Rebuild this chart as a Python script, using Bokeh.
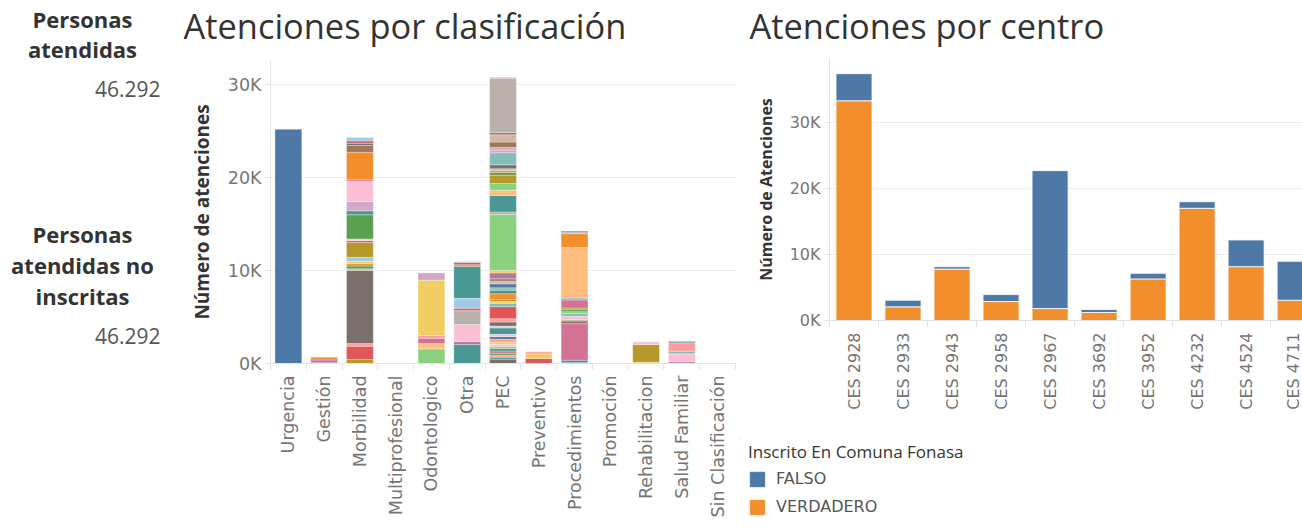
import math
from bokeh.plotting import figure
from bokeh.layouts import row, column
from bokeh.models import (Range1d, FixedTicker, PrintfTickFormatter, Legend, LegendItem,
                          ColumnDataSource)
from bokeh.embed import file_html
from bokeh.resources import INLINE
from bokeh.core.properties import value

# ---------------- data ----------------
personas_atendidas = 46292
personas_no_inscritas = 46292

titulo1 = "Atenciones por clasificación"
titulo2 = "Atenciones por centro"

categorias = ["Urgencia", "Gestión", "Morbilidad", "Multiprofesional", "Odontologico", "Otra",
              "PEC", "Preventivo", "Procedimientos", "Promoción", "Rehabilitacion",
              "Salud Familiar", "Sin Clasificación"]

# stacked segments (thousands of attentions), bottom to top, with their colour keys
urgencia_vals = [25.2]
urgencia_cols = ["azul"]
gestion_vals = [0.08, 0.3, 0.3]
gestion_cols = ["morado_cl", "morado", "naranja"]
morbilidad_vals = [0.43, 1.43, 0.3, 7.85, 0.18, 0.3, 0.25, 0.25, 0.43, 1.6, 0.2, 0.18, 2.6,
                   0.43, 1.0, 2.15, 0.18, 2.97, 0.72, 0.25, 0.25, 0.36]
morbilidad_cols = ["oliva", "rojo", "rojo_cl", "gris", "rojo_cl", "verde", "naranja", "amarillo",
                   "azul_cl", "oliva", "rojo", "rosa_cl", "verde", "turquesa", "morado_cl",
                   "rosa_cl", "rosa", "naranja", "cafe", "gris", "rojo", "azul_cl"]
multiprofesional_vals = []
multiprofesional_cols = []
odontologico_vals = [1.58, 0.57, 0.57, 0.29, 5.95, 0.79]
odontologico_cols = ["verde_cl", "naranja_cl", "rosa", "rojo_cl", "amarillo", "morado_cl"]
otra_vals = [2.04, 0.32, 1.83, 1.5, 0.25, 1.07, 3.44, 0.18, 0.25, 0.1]
otra_cols = ["turquesa", "morado", "rosa_cl", "gris_cl", "rojo", "azul_cl", "turquesa",
             "naranja", "rojo", "azul_cl"]
pec_vals = [0.47, 0.21, 0.21, 0.21, 0.25, 0.25, 0.21, 0.25, 0.25, 0.29, 0.29, 0.25, 0.68, 0.21,
            0.43, 0.36, 1.29, 0.36, 0.21, 0.21, 0.61, 0.39, 0.25, 0.43, 0.29, 0.25, 0.64, 0.25,
            6.02,
            0.29, 1.76, 0.57, 0.72, 0.9, 0.29, 0.2, 0.2, 0.43, 1.29, 0.29, 0.29, 0.57, 0.79,
            0.25, 5.84, 0.1]
pec_cols = ["gris", "turquesa", "rojo_cl", "verde", "rosa", "turquesa", "verde_cl", "rosa_cl",
            "amarillo", "rojo_cl", "azul", "rosa_cl", "turquesa", "rosa_cl", "gris", "rojo_cl",
            "rojo", "turquesa_cl", "amarillo", "oliva", "naranja", "turquesa", "turquesa_cl",
            "azul", "cafe_cl", "cafe", "morado", "amarillo",
            "verde_cl",
            "gris_cl", "turquesa", "naranja_cl", "verde_cl", "oliva", "verde", "naranja",
            "cafe_cl", "gris", "turquesa_cl", "morado_cl", "cafe_cl", "cafe", "cafe_cl", "cafe",
            "gris_cl", "morado_cl"]
preventivo_vals = [0.54, 0.5, 0.22]
preventivo_cols = ["rojo", "amarillo", "rojo_cl"]
procedimientos_vals = [0.14, 0.21, 3.94, 0.29, 0.14, 0.36, 0.29, 0.21, 0.21, 0.18, 0.86, 0.21,
                       5.45, 1.47, 0.14, 0.14]
procedimientos_cols = ["turquesa", "azul", "rosa", "cafe", "gris_cl", "rosa_cl", "turquesa_cl",
                       "verde_cl", "verde", "oliva", "rosa", "turquesa_cl", "naranja_cl",
                       "naranja", "gris_cl", "azul"]
promocion_vals = []
promocion_cols = []
rehabilitacion_vals = [0.14, 1.9, 0.29]
rehabilitacion_cols = ["amarillo", "oliva", "rosa_cl"]
salud_familiar_vals = [0.18, 0.86, 0.29, 0.9, 0.14]
salud_familiar_cols = ["morado", "rosa_cl", "turquesa_cl", "rojo_cl", "azul"]
sin_clasificacion_vals = []
sin_clasificacion_cols = []

centros = ["CES 2928", "CES 2933", "CES 2943", "CES 2958", "CES 2967", "CES 3692",
           "CES 3952", "CES 4232", "CES 4524", "CES 4711"]
verdadero = [33.3, 2.07, 7.8, 2.87, 1.81, 1.21, 6.3, 17.0, 8.16, 3.07]
falso = [4.1, 1.0, 0.36, 1.06, 20.9, 0.45, 0.85, 1.0, 4.04, 5.9]
leyenda_titulo = "Inscrito En Comuna Fonasa"
leyenda_etiquetas = ["FALSO", "VERDADERO"]

y1_ticks = [0, 10, 20, 30]
y2_ticks = [0, 10, 20, 30]

# ---------------- styles ----------------
paleta = {"azul": "#4E79A7", "azul_cl": "#A0CBE8", "naranja": "#F28E2B", "naranja_cl": "#FFBE7D",
          "verde": "#59A14F", "verde_cl": "#8CD17D", "oliva": "#B6992D", "amarillo": "#F1CE63",
          "turquesa": "#499894", "turquesa_cl": "#86BCB6", "rojo": "#E15759", "rojo_cl": "#FF9D9A",
          "gris": "#79706E", "gris_cl": "#BAB0AC", "rosa": "#D37295", "rosa_cl": "#FABFD2",
          "morado": "#B07AA1", "morado_cl": "#D4A6C8", "cafe": "#9D7660", "cafe_cl": "#D7B5A6"}
TICK_FONT = "DejaVu Sans"
TITLE_FONT = "Open Sans"
GRID = "#ececec"
AXIS = "#e3e3e3"
TICK_COLOR = "#757575"
DARK = "#333333"

H = 531
W0, W1, W2 = 183, 557, 562
T1, T2 = 60, 58          # heights of the title strips
HL = 93                  # height of the legend strip


def fmt_miles(n):
    return f"{n:,}".replace(",", ".")


def blank(w, h):
    f = figure(width=w, height=h, x_range=Range1d(0, w), y_range=Range1d(h, 0),
               output_backend="svg", toolbar_location=None, min_border=0,
               x_axis_type=None, y_axis_type=None, title=None)
    f.frame_align = False
    f.outline_line_color = None
    f.grid.visible = False
    return f


# ---------------- left KPI panel ----------------
p0 = blank(W0, H)
p0.text(x=[82, 82, 82, 82, 82], y=[18, 48, 233, 264, 295],
        text=["Personas", "atendidas", "Personas", "atendidas no", "inscritas"],
        text_font=value(TITLE_FONT), text_font_style="bold", text_font_size="22px",
        text_color=DARK, text_align="center", text_baseline="middle")
p0.text(x=[160, 160], y=[88, 335],
        text=[fmt_miles(personas_atendidas), fmt_miles(personas_no_inscritas)],
        text_font=value(TITLE_FONT), text_font_size="21px", text_color="#555555",
        text_align="right", text_baseline="middle")

# ---------------- title strips ----------------
t1 = blank(W1, T1)
t1.text(x=[0], y=[25], text=[titulo1], text_font=value(TITLE_FONT), text_font_size="34.4px",
        text_color=DARK, text_align="left", text_baseline="middle")
t2 = blank(W2, T2)
t2.text(x=[9], y=[25], text=[titulo2], text_font=value(TITLE_FONT), text_font_size="34.4px",
        text_color=DARK, text_align="left", text_baseline="middle")

# ---------------- chart 1 ----------------
seg_vals = [urgencia_vals, gestion_vals, morbilidad_vals, multiprofesional_vals,
            odontologico_vals, otra_vals, pec_vals, preventivo_vals, procedimientos_vals,
            promocion_vals, rehabilitacion_vals, salud_familiar_vals, sin_clasificacion_vals]
seg_cols = [urgencia_cols, gestion_cols, morbilidad_cols, multiprofesional_cols,
            odontologico_cols, otra_cols, pec_cols, preventivo_cols, procedimientos_cols,
            promocion_cols, rehabilitacion_cols, salud_familiar_cols, sin_clasificacion_cols]

xs, bots, tops, cols = [], [], [], []
for i, (vals, ck) in enumerate(zip(seg_vals, seg_cols)):
    acc = 0.0
    for v, c in zip(vals, ck):
        xs.append(2 * i + 1)
        bots.append(acc)
        tops.append(acc + v)
        cols.append(paleta[c])
        acc += v
src1 = ColumnDataSource(dict(x=xs, bottom=bots, top=tops, color=cols))

n1 = len(categorias)
p1 = figure(width=W1, height=H - T1, x_range=Range1d(0, 2 * n1), y_range=Range1d(0, 32.6),
            output_backend="svg", toolbar_location=None, title=None,
            min_border_left=87, min_border_right=5, min_border_top=0, min_border_bottom=168)
p1.vbar(x="x", bottom="bottom", top="top", width=1.5, fill_color="color", source=src1,
        line_color="white", line_width=0.5, line_alpha=0.6)

# ---------------- chart 2 ----------------
src2 = ColumnDataSource(dict(x=[2 * i + 1 for i in range(len(centros))],
                             verdadero=verdadero, falso=falso))
H2 = H - T2 - HL
p2 = figure(width=W2, height=H2, x_range=Range1d(0, 19.3), y_range=Range1d(0, 39.7),
            output_backend="svg", toolbar_location=None, title=None,
            min_border_left=89, min_border_right=0, min_border_top=0, min_border_bottom=118)
r_verd, r_falso = p2.vbar_stack(["verdadero", "falso"], x="x", width=1.47, source=src2,
                                color=[paleta["naranja"], paleta["azul"]],
                                line_color="white", line_width=1, line_alpha=0.8)


def style(p, labels, nticks, yticks, ylabel, tick_size, ylab_size):
    p.frame_align = False
    p.outline_line_color = None
    p.background_fill_color = "white"
    p.xgrid.visible = False
    p.ygrid.grid_line_color = GRID
    p.ygrid.grid_line_width = 1

    xa = p.xaxis[0]
    xa.ticker = FixedTicker(ticks=[2 * i + 1 for i in range(len(labels))],
                            minor_ticks=[2 * i for i in range(nticks + 1)])
    xa.major_label_overrides = {2 * i + 1: lab for i, lab in enumerate(labels)}
    xa.major_label_orientation = math.pi / 2
    xa.major_tick_line_color = None
    xa.minor_tick_in = 0
    xa.minor_tick_out = 6
    xa.minor_tick_line_color = AXIS
    xa.axis_line_color = AXIS
    xa.major_label_text_font = TICK_FONT
    xa.major_label_text_font_size = tick_size
    xa.major_label_text_color = TICK_COLOR
    xa.major_label_standoff = 6

    ya = p.yaxis[0]
    ya.ticker = FixedTicker(ticks=yticks)
    ya.formatter = PrintfTickFormatter(format="%dK")
    ya.major_tick_in = 0
    ya.major_tick_out = 5
    ya.major_tick_line_color = AXIS
    ya.minor_tick_line_color = None
    ya.axis_line_color = AXIS
    ya.major_label_text_font = TICK_FONT
    ya.major_label_text_font_size = tick_size
    ya.major_label_text_color = TICK_COLOR
    ya.major_label_standoff = 4
    ya.axis_label = ylabel
    ya.axis_label_text_font = TITLE_FONT
    ya.axis_label_text_font_style = "bold"
    ya.axis_label_text_font_size = ylab_size
    ya.axis_label_text_color = DARK
    ya.axis_label_standoff = 10


style(p1, categorias, n1, y1_ticks, "Número de atenciones", "17.5px", "19px")
style(p2, centros, 10, y2_ticks, "Número de Atenciones", "16px", "16px")

# ---------------- legend (below chart 2) ----------------
pl = blank(W2, HL)
swatch = ColumnDataSource(dict(x=[-50], top=[0]))
lr_f = pl.vbar(x="x", top="top", width=1, source=swatch, color=paleta["azul"])
lr_v = pl.vbar(x="x", top="top", width=1, source=swatch, color=paleta["naranja"])
legend = Legend(items=[LegendItem(label=leyenda_etiquetas[0], renderers=[lr_f]),
                       LegendItem(label=leyenda_etiquetas[1], renderers=[lr_v])],
                location=(8, 15), orientation="vertical", title=leyenda_titulo)
legend.title_text_font = TITLE_FONT
legend.title_text_font_style = "normal"
legend.title_text_font_size = "17px"
legend.title_text_color = DARK
legend.title_standoff = 6
legend.label_text_font = TICK_FONT
legend.label_text_font_size = "16px"
legend.label_text_color = "#555555"
legend.glyph_width = 18
legend.glyph_height = 18
legend.label_standoff = 10
legend.spacing = 9
legend.padding = 0
legend.margin = 0
legend.border_line_color = None
legend.background_fill_alpha = 0
pl.add_layout(legend)

layout = row(p0, column(t1, p1), column(t2, p2, pl))
open("out.html", "w").write(file_html(layout, INLINE))
